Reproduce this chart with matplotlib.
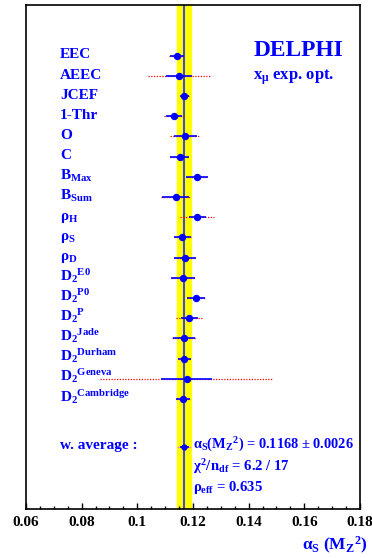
import numpy as np
import matplotlib
matplotlib.use("Agg")
import matplotlib.pyplot as plt

plt.rcParams['font.family'] = 'Liberation Serif'
plt.rcParams['font.weight'] = 'bold'
plt.rcParams['mathtext.fontset'] = 'custom'
plt.rcParams['mathtext.rm'] = 'Liberation Serif:bold'
plt.rcParams['mathtext.it'] = 'Liberation Serif:bold'
plt.rcParams['mathtext.bf'] = 'Liberation Serif:bold'

# observables and fitted alpha_s values
labels = ['EEC', 'AEEC', 'JCEF', '1-Thr', 'O', 'C',
          r'$\mathrm{B_{Max}}$', r'$\mathrm{B_{Sum}}$',
          r'$\rho_\mathrm{H}$', r'$\rho_\mathrm{S}$', r'$\rho_\mathrm{D}$',
          r'$\mathrm{D_2{}^{E0}}$', r'$\mathrm{D_2{}^{P0}}$', r'$\mathrm{D_2{}^{P}}$',
          r'$\mathrm{D_2{}^{Jade}}$', r'$\mathrm{D_2{}^{Durham}}$',
          r'$\mathrm{D_2{}^{Geneva}}$', r'$\mathrm{D_2{}^{Cambridge}}$']
alphas = [0.1141, 0.1150, 0.1168, 0.1132, 0.1172, 0.1152, 0.1215, 0.1138, 0.1215,
          0.1161, 0.1172, 0.1164, 0.1210, 0.1187, 0.1169, 0.1169, 0.1177, 0.1164]
err_exp = [0.0025, 0.0047, 0.0016, 0.0028, 0.0042, 0.0033, 0.0040, 0.0048, 0.0031,
           0.0031, 0.0039, 0.0042, 0.0033, 0.0030, 0.0040, 0.0024, 0.0093, 0.0025]
err_tot = [0.0026, 0.0110, 0.0016, 0.0035, 0.0054, 0.0035, 0.0040, 0.0054, 0.0060,
           0.0031, 0.0039, 0.0042, 0.0033, 0.0048, 0.0043, 0.0024, 0.0310, 0.0025]

avg = 0.1168
avg_err = 0.0026
avg_exp = 0.0016

fig = plt.figure(figsize=(3.72, 5.58), dpi=100)
ax = fig.add_axes([0.0699, 0.0878, 0.8978, 0.9032])

blue = '#0000ff'
ax.axvspan(avg - avg_err, avg + avg_err, color='#ffff00', zorder=1)
ax.axvline(avg, color='#4848d8', lw=1.5, zorder=2)

rows = np.arange(len(labels))
avg_row = 19.37
ax.errorbar(alphas, rows, xerr=err_tot, fmt='none', ecolor='red', elinewidth=0.9,
            ls='none', zorder=3).lines[2][0].set_linestyle((0, (1, 1.2)))
ax.errorbar(alphas, rows, xerr=err_exp, fmt='o', color=blue, ms=4.3,
            elinewidth=1.2, capsize=0, zorder=4)
ax.errorbar([avg], [avg_row], xerr=[avg_err], fmt='none', ecolor='#ff9090',
            elinewidth=0.9, zorder=3)
ax.errorbar([avg], [avg_row], xerr=[avg_exp], fmt='o', color=blue, ms=3.5,
            elinewidth=1.2, capsize=0, zorder=4)

for i, lab in enumerate(labels):
    ax.text(0.0722, i + 0.13, lab, color=blue, fontsize=11, fontweight='bold',
            va='baseline', ha='left')

ax.text(0.1416, 0.0, 'DELPHI', color=blue, fontsize=16.8, fontweight='bold', va='baseline')
ax.text(0.1416, 1.2, r'x$_\mathrm{\mu}$ exp. opt.', color=blue, fontsize=12,
        fontweight='bold', va='baseline')

ax.text(0.0722, 19.49, 'w. average :', color=blue, fontsize=11, fontweight='bold', va='baseline')
ax.text(0.1201, 19.49, r'$\alpha_\mathrm{S}$(M$_\mathrm{Z}$$^\mathrm{2}$) = 0.1168 $\pm$ 0.0026',
        color=blue, fontsize=10.4, fontweight='bold', va='baseline')
ax.text(0.1201, 20.57, r'$\chi^\mathrm{2}$/n$_\mathrm{df}$ = 6.2 / 17',
        color=blue, fontsize=10.6, fontweight='bold', va='baseline')
ax.text(0.1201, 21.56, r'$\rho_\mathrm{eff}$ = 0.635',
        color=blue, fontsize=10.6, fontweight='bold', va='baseline')

ax.set_xlim(0.06, 0.18)
ax.set_ylim(22.45, -2.51)
ax.set_xticks(np.arange(0.06, 0.1801, 0.02))
ax.set_xticklabels(['0.06', '0.08', '0.1', '0.12', '0.14', '0.16', '0.18'])
ax.set_xticks(np.arange(0.06, 0.1801, 0.005), minor=True)
ax.set_yticks([])
ax.tick_params(axis='x', which='major', direction='in', length=4, width=1, pad=5,
               labelsize=11)
ax.tick_params(axis='x', which='minor', direction='in', length=2, width=1)
for lab in ax.get_xticklabels():
    lab.set_fontweight('bold')
for s in ax.spines.values():
    s.set_linewidth(1.2)

fig.text(0.987, 0.0143, r'$\alpha_\mathrm{S}$ (M$_\mathrm{Z}$$^\mathrm{2}$)', color=blue,
         fontsize=12.5, fontweight='bold', ha='right', va='baseline')

fig.savefig('out.png', dpi=100)
